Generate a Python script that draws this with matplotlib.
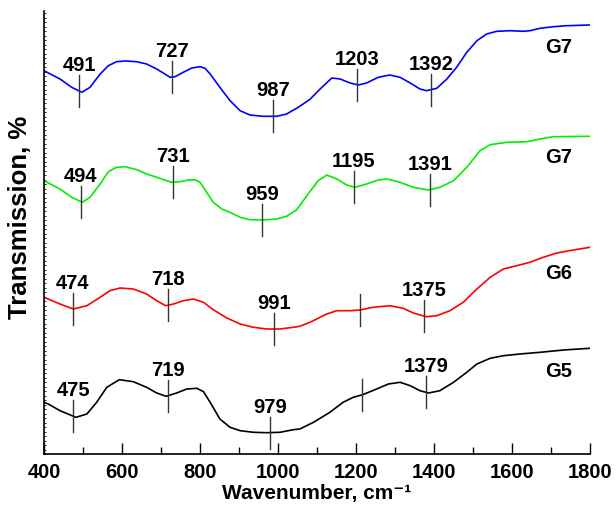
import numpy as np
import matplotlib
matplotlib.use("Agg")
from matplotlib import pyplot as plt
from matplotlib.ticker import MultipleLocator

plt.rcParams['font.family'] = ['Liberation Sans', 'DejaVu Sans']
plt.rcParams['font.weight'] = 'bold'

# spectra; y in arbitrary transmission units (curves already offset)
g7a_wn = [400, 441, 471, 497, 518, 544, 565, 586, 608, 638, 663, 689, 710, 723, 736, 757,
          779, 800, 813, 826, 851, 877, 903, 928, 962, 997, 1022, 1052, 1082, 1108, 1138,
          1159, 1185, 1206, 1227, 1257, 1287, 1313, 1339, 1364, 1381, 1407, 1433, 1458, 1484,
          1510, 1535, 1561, 1595, 1629, 1646, 1672, 1706, 1740, 1800]
g7a_t = [383.3, 375, 366.7, 361.7, 366.7, 380, 388.3, 392.3, 393, 392.3, 390, 385, 380, 376.7, 377.3, 381.7,
         386, 387.3, 385.7, 380, 366.7, 353.3, 343.3, 339, 337.7, 337.7, 340, 346.7, 354.7, 365, 376,
         375, 371, 369, 371, 376.7, 379, 376.7, 371, 365, 363.3, 365.7, 375, 386.7, 401.7,
         413.3, 420, 422.7, 423.3, 422.7, 423.3, 425.7, 427.3, 428.3, 429]

g7b_wn = [400, 441, 471, 498, 518, 544, 565, 586, 608, 638, 663, 689, 715, 727, 749, 770,
          787, 800, 817, 834, 856, 877, 903, 928, 962, 997, 1022, 1048, 1082, 1103, 1125,
          1151, 1176, 1197, 1227, 1257, 1280, 1313, 1347, 1386, 1415, 1450, 1484, 1518, 1544,
          1586, 1638, 1672, 1706, 1800]
g7b_t = [273.3, 265, 256.7, 251.7, 256.7, 270, 282.3, 286.7, 287.3, 284.3, 280, 276.7, 273.3, 271.7, 272.3, 274,
         274.3, 271.7, 261.7, 251.7, 245, 241.7, 236.7, 234.3, 234, 235, 237.7, 244.3, 262.5, 273.3, 279,
         275, 269, 266.7, 270, 274, 275, 271.7, 266.7, 264, 266.7, 273.3, 286.7, 303.3, 309.3,
         311.7, 312.3, 315, 317.3, 317.7]

g6_wn = [400, 441, 475, 510, 544, 569, 595, 629, 663, 689, 712, 732, 757, 783, 809, 834,
         869, 903, 937, 971, 1005, 1039, 1056, 1082, 1125, 1151, 1185, 1210, 1244, 1287, 1321,
         1347, 1380, 1407, 1441, 1475, 1510, 1544, 1578, 1612, 1646, 1680, 1715, 1757, 1800]
g6_t = [156.7, 150, 145, 148.3, 156.7, 163.3, 166, 165, 160, 153.3, 148.3, 150, 153.3, 155, 151.7, 144.3,
        136, 130, 126.7, 125, 125, 126.7, 127.7, 131.7, 140, 143.3, 143.3, 144, 146.7, 148.3, 145.7,
        141, 137.3, 138.3, 143.3, 151.7, 165, 176.7, 185, 188.3, 191.7, 196.7, 201, 204, 206.7]

g5_wn = [400, 411, 441, 482, 510, 535, 561, 593, 629, 663, 689, 713, 740, 766, 792, 809,
         826, 851, 877, 903, 937, 971, 1005, 1039, 1056, 1082, 1091, 1133, 1167, 1193, 1217,
         1253, 1283, 1313, 1339, 1364, 1386, 1415, 1450, 1484, 1510, 1544, 1578, 1620, 1672,
         1732, 1800]
g5_t = [51.7, 50, 43.3, 36.7, 40, 51.7, 66.7, 74.3, 72.3, 66.7, 61, 57.7, 61, 65, 65.7, 62.3,
        51.7, 35, 26.7, 23.3, 21.7, 21.3, 21.7, 24.3, 25, 30, 31.7, 41.7, 51.7, 56.7, 59.3,
        65, 70, 71.7, 68.3, 63.3, 61, 63.3, 71.7, 81.7, 90, 95.7, 98.3, 100, 101.7,
        104, 105.7]

series = [
    (g7a_wn, g7a_t, '#0000ff', 'G7', [491, 727, 987, 1203, 1392], ['491', '727', '987', '1203', '1392']),
    (g7b_wn, g7b_t, '#00ee00', 'G7', [494, 731, 959, 1195, 1391], ['494', '731', '959', '1195', '1391']),
    (g6_wn, g6_t, '#ff0000', 'G6', [474, 718, 991, 1210, 1375], ['474', '718', '991', '', '1375']),
    (g5_wn, g5_t, '#000000', 'G5', [475, 719, 979, 1215, 1379], ['475', '719', '979', '', '1379']),
]

fig = plt.figure(figsize=(6.16, 5.06), dpi=100)
ax = fig.add_axes([44/616, 51/506, 546/616, 443/506])

for wn, t, col, name, peaks, labels in series:
    ax.plot(wn, t, color=col, lw=1.2)
    for p, lab in zip(peaks, labels):
        yc = np.interp(p, wn, t)
        ax.plot([p, p], [yc - 16, yc + 16], color='#333333', lw=1)
        if lab:
            ax.text(p, yc + 21, lab, ha='center', va='baseline', fontsize=14.5, fontweight='bold')
    ax.text(1720, np.interp(1720, wn, t) - 20, name, ha='center', va='center',
            fontsize=14.5, fontweight='bold')

ax.set_xlim(400, 1800)
ax.set_ylim(0, 443)
ax.xaxis.set_major_locator(MultipleLocator(200))
ax.xaxis.set_minor_locator(MultipleLocator(100))
ax.tick_params(axis='x', which='major', direction='in', length=8, width=1, labelsize=14.5, pad=6)
ax.tick_params(axis='x', which='minor', direction='in', length=5, width=1)
ax.yaxis.set_major_locator(MultipleLocator(45))
ax.yaxis.set_minor_locator(MultipleLocator(4.5))
ax.tick_params(axis='y', which='both', direction='in', length=1.5, width=0.6, labelleft=False)
ax.spines['top'].set_visible(False)
ax.spines['right'].set_visible(False)
for s in ['left', 'bottom']:
    ax.spines[s].set_linewidth(1.2)

ax.set_xlabel('Wavenumber, cm\u207b\u00b9', fontsize=15, fontweight='bold', labelpad=1)
ax.set_ylabel('Transmission, %', fontsize=18.5, fontweight='bold')
ax.yaxis.set_label_coords(-0.022, 0.537)

fig.savefig('out.png', dpi=100)
